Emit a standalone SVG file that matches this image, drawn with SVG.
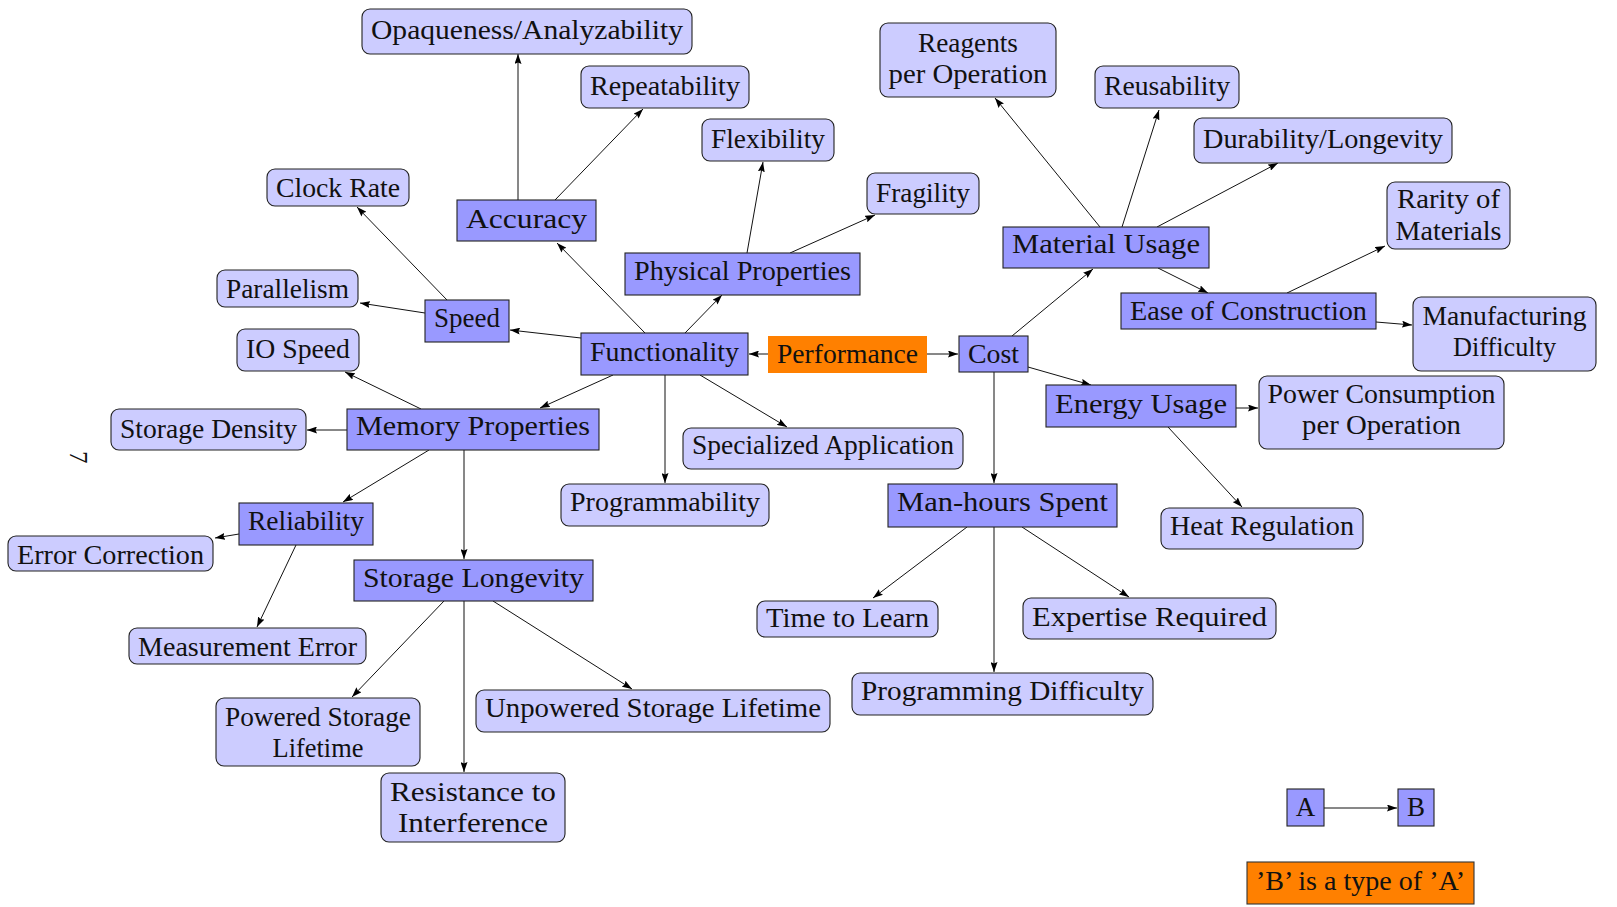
<svg xmlns="http://www.w3.org/2000/svg" width="1617" height="907" viewBox="0 0 1617 907">
<style>
.l{fill:#ccccff;stroke:#222;stroke-width:1.1}
.d{fill:#9999ff;stroke:#222;stroke-width:1.1}
.o{fill:#ff8000}
.ob{fill:#ff8000;stroke:#333;stroke-width:1.1}
text{font-family:"Liberation Serif","Times New Roman",serif;font-size:27px;fill:#111;text-anchor:middle}
#edges line{stroke:#111;stroke-width:1;marker-end:url(#ah)}
</style>
<defs>
<marker id="ah" markerUnits="userSpaceOnUse" viewBox="0 0 10 7" refX="10" refY="3.5" markerWidth="10" markerHeight="7" orient="auto">
<path d="M0,0 L10,3.5 L0,7 L1.5,3.5 z" fill="#000"/>
</marker>
</defs>
<rect width="1617" height="907" fill="#fff"/>
<g id="edges">
<line x1="518" y1="200" x2="518" y2="54"/>
<line x1="555" y1="200" x2="643" y2="109"/>
<line x1="645" y1="333" x2="557" y2="243"/>
<line x1="685" y1="333" x2="722" y2="295"/>
<line x1="747" y1="253" x2="763" y2="162"/>
<line x1="790" y1="253" x2="875" y2="215"/>
<line x1="581" y1="338" x2="510" y2="330"/>
<line x1="447" y1="300" x2="357" y2="207"/>
<line x1="425" y1="313" x2="360" y2="303"/>
<line x1="421" y1="409" x2="345" y2="372"/>
<line x1="347" y1="430" x2="307" y2="430"/>
<line x1="429" y1="450" x2="343" y2="502"/>
<line x1="464" y1="450" x2="464" y2="559"/>
<line x1="613" y1="375" x2="540" y2="408"/>
<line x1="665" y1="375" x2="665" y2="483"/>
<line x1="700" y1="375" x2="787" y2="427"/>
<line x1="239" y1="534" x2="215" y2="538"/>
<line x1="296" y1="545" x2="257" y2="627"/>
<line x1="444" y1="601" x2="352" y2="697"/>
<line x1="464" y1="601" x2="464" y2="772"/>
<line x1="493" y1="601" x2="632" y2="689"/>
<line x1="768" y1="354" x2="749" y2="354"/>
<line x1="927" y1="354" x2="958" y2="354"/>
<line x1="1012" y1="336" x2="1093" y2="269"/>
<line x1="1028" y1="367" x2="1091" y2="385"/>
<line x1="994" y1="372" x2="994" y2="483"/>
<line x1="1100" y1="227" x2="995" y2="98"/>
<line x1="1122" y1="227" x2="1159" y2="110"/>
<line x1="1157" y1="227" x2="1278" y2="163"/>
<line x1="1158" y1="268" x2="1208" y2="293"/>
<line x1="1287" y1="293" x2="1385" y2="246"/>
<line x1="1376" y1="322" x2="1412" y2="325"/>
<line x1="1236" y1="408" x2="1258" y2="408"/>
<line x1="1168" y1="427" x2="1242" y2="507"/>
<line x1="967" y1="527" x2="873" y2="598"/>
<line x1="1022" y1="527" x2="1129" y2="597"/>
<line x1="994" y1="527" x2="994" y2="672"/>
<line x1="1324" y1="808" x2="1397" y2="808"/>
</g>
<g id="opaqueness"><rect class="l" x="362" y="9" width="330" height="45" rx="8"/><text x="527" y="39" textLength="312" lengthAdjust="spacingAndGlyphs">Opaqueness/Analyzability</text></g>
<g id="repeatability"><rect class="l" x="581" y="66" width="168" height="42" rx="8"/><text x="665" y="95" textLength="150" lengthAdjust="spacingAndGlyphs">Repeatability</text></g>
<g id="flexibility"><rect class="l" x="702" y="119" width="132" height="42" rx="8"/><text x="768" y="148" textLength="114" lengthAdjust="spacingAndGlyphs">Flexibility</text></g>
<g id="fragility"><rect class="l" x="867" y="173" width="112" height="41" rx="8"/><text x="923" y="202" textLength="94" lengthAdjust="spacingAndGlyphs">Fragility</text></g>
<g id="clockrate"><rect class="l" x="267" y="169" width="142" height="37" rx="8"/><text x="338" y="197" textLength="124" lengthAdjust="spacingAndGlyphs">Clock Rate</text></g>
<g id="parallelism"><rect class="l" x="217" y="270" width="141" height="37" rx="8"/><text x="287.5" y="298" textLength="123" lengthAdjust="spacingAndGlyphs">Parallelism</text></g>
<g id="iospeed"><rect class="l" x="237" y="329" width="122" height="42" rx="8"/><text x="298" y="358" textLength="104" lengthAdjust="spacingAndGlyphs">IO Speed</text></g>
<g id="storagedensity"><rect class="l" x="111" y="409" width="195" height="41" rx="8"/><text x="208.5" y="438" textLength="177" lengthAdjust="spacingAndGlyphs">Storage Density</text></g>
<g id="errorcorrection"><rect class="l" x="8" y="536" width="205" height="35" rx="8"/><text x="110.5" y="564" textLength="187" lengthAdjust="spacingAndGlyphs">Error Correction</text></g>
<g id="measurementerror"><rect class="l" x="129" y="628" width="237" height="36" rx="8"/><text x="247.5" y="656" textLength="219" lengthAdjust="spacingAndGlyphs">Measurement Error</text></g>
<g id="poweredstorage"><rect class="l" x="216" y="698" width="204" height="68" rx="8"/><text x="318" y="726" textLength="186" lengthAdjust="spacingAndGlyphs">Powered Storage</text><text x="318" y="757" textLength="91" lengthAdjust="spacingAndGlyphs">Lifetime</text></g>
<g id="resistance"><rect class="l" x="381" y="773" width="184" height="69" rx="8"/><text x="473" y="801" textLength="166" lengthAdjust="spacingAndGlyphs">Resistance to</text><text x="473" y="832" textLength="150" lengthAdjust="spacingAndGlyphs">Interference</text></g>
<g id="unpowered"><rect class="l" x="476" y="690" width="354" height="42" rx="8"/><text x="653" y="717" textLength="336" lengthAdjust="spacingAndGlyphs">Unpowered Storage Lifetime</text></g>
<g id="programmability"><rect class="l" x="561" y="484" width="208" height="42" rx="8"/><text x="665" y="511" textLength="190" lengthAdjust="spacingAndGlyphs">Programmability</text></g>
<g id="specialized"><rect class="l" x="683" y="428" width="280" height="41" rx="8"/><text x="823" y="454" textLength="262" lengthAdjust="spacingAndGlyphs">Specialized Application</text></g>
<g id="reagents"><rect class="l" x="880" y="23" width="176" height="74" rx="8"/><text x="968" y="52" textLength="100" lengthAdjust="spacingAndGlyphs">Reagents</text><text x="968" y="83" textLength="159" lengthAdjust="spacingAndGlyphs">per Operation</text></g>
<g id="reusability"><rect class="l" x="1095" y="66" width="144" height="42" rx="8"/><text x="1167" y="95" textLength="126" lengthAdjust="spacingAndGlyphs">Reusability</text></g>
<g id="durability"><rect class="l" x="1194" y="118" width="258" height="45" rx="8"/><text x="1323" y="148" textLength="240" lengthAdjust="spacingAndGlyphs">Durability/Longevity</text></g>
<g id="rarity"><rect class="l" x="1387" y="182" width="123" height="67" rx="8"/><text x="1448.5" y="208" textLength="103" lengthAdjust="spacingAndGlyphs">Rarity of</text><text x="1448.5" y="240" textLength="106" lengthAdjust="spacingAndGlyphs">Materials</text></g>
<g id="manufacturing"><rect class="l" x="1413" y="297" width="183" height="74" rx="8"/><text x="1504.5" y="325" textLength="164" lengthAdjust="spacingAndGlyphs">Manufacturing</text><text x="1504.5" y="356" textLength="103" lengthAdjust="spacingAndGlyphs">Difficulty</text></g>
<g id="powerconsumption"><rect class="l" x="1259" y="376" width="245" height="73" rx="8"/><text x="1381.5" y="403" textLength="228" lengthAdjust="spacingAndGlyphs">Power Consumption</text><text x="1381.5" y="434" textLength="159" lengthAdjust="spacingAndGlyphs">per Operation</text></g>
<g id="heatregulation"><rect class="l" x="1161" y="508" width="202" height="41" rx="8"/><text x="1262" y="535" textLength="184" lengthAdjust="spacingAndGlyphs">Heat Regulation</text></g>
<g id="timetolearn"><rect class="l" x="757" y="601" width="181" height="36" rx="8"/><text x="847.5" y="627" textLength="163" lengthAdjust="spacingAndGlyphs">Time to Learn</text></g>
<g id="expertise"><rect class="l" x="1023" y="598" width="253" height="41" rx="8"/><text x="1149.5" y="626" textLength="235" lengthAdjust="spacingAndGlyphs">Expertise Required</text></g>
<g id="progdifficulty"><rect class="l" x="852" y="673" width="301" height="42" rx="8"/><text x="1002.5" y="700" textLength="283" lengthAdjust="spacingAndGlyphs">Programming Difficulty</text></g>
<g id="accuracy"><rect class="d" x="457" y="200" width="139" height="41"/><text x="526.5" y="228" textLength="121" lengthAdjust="spacingAndGlyphs">Accuracy</text></g>
<g id="physical"><rect class="d" x="625" y="253" width="235" height="42"/><text x="742.5" y="280" textLength="217" lengthAdjust="spacingAndGlyphs">Physical Properties</text></g>
<g id="speed"><rect class="d" x="425" y="300" width="84" height="42"/><text x="467" y="327" textLength="66" lengthAdjust="spacingAndGlyphs">Speed</text></g>
<g id="functionality"><rect class="d" x="581" y="333" width="167" height="42"/><text x="664.5" y="361" textLength="149" lengthAdjust="spacingAndGlyphs">Functionality</text></g>
<g id="memory"><rect class="d" x="347" y="409" width="252" height="41"/><text x="473" y="435" textLength="234" lengthAdjust="spacingAndGlyphs">Memory Properties</text></g>
<g id="reliability"><rect class="d" x="239" y="503" width="134" height="42"/><text x="306" y="530" textLength="116" lengthAdjust="spacingAndGlyphs">Reliability</text></g>
<g id="storagelongevity"><rect class="d" x="354" y="560" width="239" height="41"/><text x="473.5" y="587" textLength="221" lengthAdjust="spacingAndGlyphs">Storage Longevity</text></g>
<g id="materialusage"><rect class="d" x="1003" y="227" width="206" height="41"/><text x="1106" y="253" textLength="188" lengthAdjust="spacingAndGlyphs">Material Usage</text></g>
<g id="ease"><rect class="d" x="1121" y="293" width="255" height="36"/><text x="1248.5" y="320" textLength="237" lengthAdjust="spacingAndGlyphs">Ease of Construction</text></g>
<g id="cost"><rect class="d" x="959" y="336" width="69" height="36"/><text x="993.5" y="363" textLength="51" lengthAdjust="spacingAndGlyphs">Cost</text></g>
<g id="energy"><rect class="d" x="1046" y="385" width="190" height="42"/><text x="1141" y="413" textLength="172" lengthAdjust="spacingAndGlyphs">Energy Usage</text></g>
<g id="manhours"><rect class="d" x="888" y="484" width="229" height="43"/><text x="1002.5" y="511" textLength="211" lengthAdjust="spacingAndGlyphs">Man-hours Spent</text></g>
<g id="performance"><rect class="o" x="768" y="336" width="159" height="37"/><text x="847.5" y="363" textLength="141" lengthAdjust="spacingAndGlyphs">Performance</text></g>
<g id="legendA"><rect class="d" x="1287" y="789" width="37" height="37"/><text x="1305.5" y="816">A</text></g>
<g id="legendB"><rect class="d" x="1398" y="789" width="36" height="37"/><text x="1416" y="816">B</text></g>
<g id="legendtext"><rect class="ob" x="1247" y="862" width="227" height="42"/><text x="1360.5" y="890" textLength="209" lengthAdjust="spacingAndGlyphs">’B’ is a type of ’A’</text></g>
<text transform="translate(70,451) rotate(90)" x="0" y="0" style="text-anchor:start;font-size:25px">7</text>
</svg>
